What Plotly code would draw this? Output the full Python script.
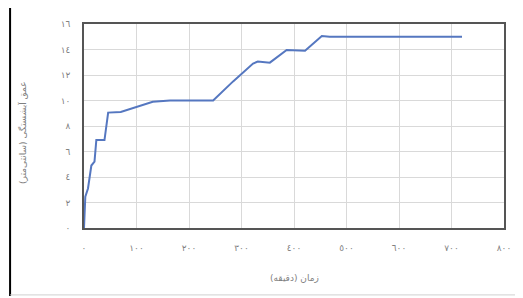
import plotly.graph_objects as go

# Data
time_min = [0, 2.5, 7.6, 14, 20, 23.5, 39, 46, 70, 99, 131, 164, 200, 246, 284, 322, 331, 354, 386, 421, 453, 468, 720]
depth_cm = [0, 2.45, 3.1, 4.9, 5.2, 6.9, 6.9, 9.05, 9.1, 9.5, 9.9, 10.0, 10.0, 10.0, 11.5, 12.9, 13.05, 12.97, 13.96, 13.9, 15.06, 15.0, 15.0]

x_tickvals = [0, 100, 200, 300, 400, 500, 600, 700, 800]
x_ticktext = ["٠", "١٠٠", "٢٠٠", "٣٠٠", "٤٠٠", "٥٠٠", "٦٠٠", "٧٠٠", "٨٠٠"]
y_tickvals = [0, 2, 4, 6, 8, 10, 12, 14, 16]
y_ticktext = ["٠", "٢", "٤", "٦", "٨", "١٠", "١٢", "١٤", "١٦"]

x_title = "زمان (دقیقه)"
y_title = "عمق آبشستگی (سانتی‌متر)"

FONT = "DejaVu Sans"
TICK_COLOR = "#7f7f7f"

fig = go.Figure()
fig.add_trace(go.Scatter(
    x=time_min, y=depth_cm, mode="lines",
    line=dict(color="#5577c0", width=2),
    showlegend=False, hoverinfo="skip",
))

axis_common = dict(
    showgrid=True, gridcolor="#d9d9d9", gridwidth=1,
    showline=True, linecolor="#555555", linewidth=1.5, mirror=True,
    zeroline=False, ticks="",
    tickfont=dict(family=FONT, size=9, color=TICK_COLOR),
)

# page body has an 8px default margin, so the figure is sized to compensate
fig.update_layout(
    width=515, height=290,
    margin=dict(l=76, r=19, t=16, b=70, autoexpand=False),
    paper_bgcolor="white", plot_bgcolor="white",
    xaxis=dict(range=[0, 800], tickvals=x_tickvals, ticktext=x_ticktext,
               ticklabelstandoff=10, automargin=False, **axis_common),
    yaxis=dict(range=[0, 16], tickvals=y_tickvals, ticktext=y_ticktext,
               ticklabelstandoff=10, automargin=False, **axis_common),
    annotations=[
        dict(text=x_title, xref="paper", yref="paper", x=0.5, y=-0.245,
             showarrow=False, font=dict(family=FONT, size=9, color=TICK_COLOR),
             xanchor="center", yanchor="middle"),
        dict(text=y_title, xref="paper", yref="paper", x=-0.148, y=0.47,
             showarrow=False, textangle=-90,
             font=dict(family=FONT, size=9, color=TICK_COLOR),
             xanchor="center", yanchor="middle"),
    ],
    shapes=[
        # outer frame: black left and top, light bottom
        dict(type="line", xref="paper", yref="paper", x0=-0.176, x1=-0.176, y0=-0.333, y1=1.093,
             line=dict(color="black", width=2)),
        dict(type="line", xref="paper", yref="paper", x0=-0.176, x1=1.1, y0=1.093, y1=1.093,
             line=dict(color="black", width=2)),
        dict(type="line", xref="paper", yref="paper", x0=-0.176, x1=1.1, y0=-0.328, y1=-0.328,
             line=dict(color="#d0d0d0", width=1)),
    ],
)

fig.write_html("out.html")
